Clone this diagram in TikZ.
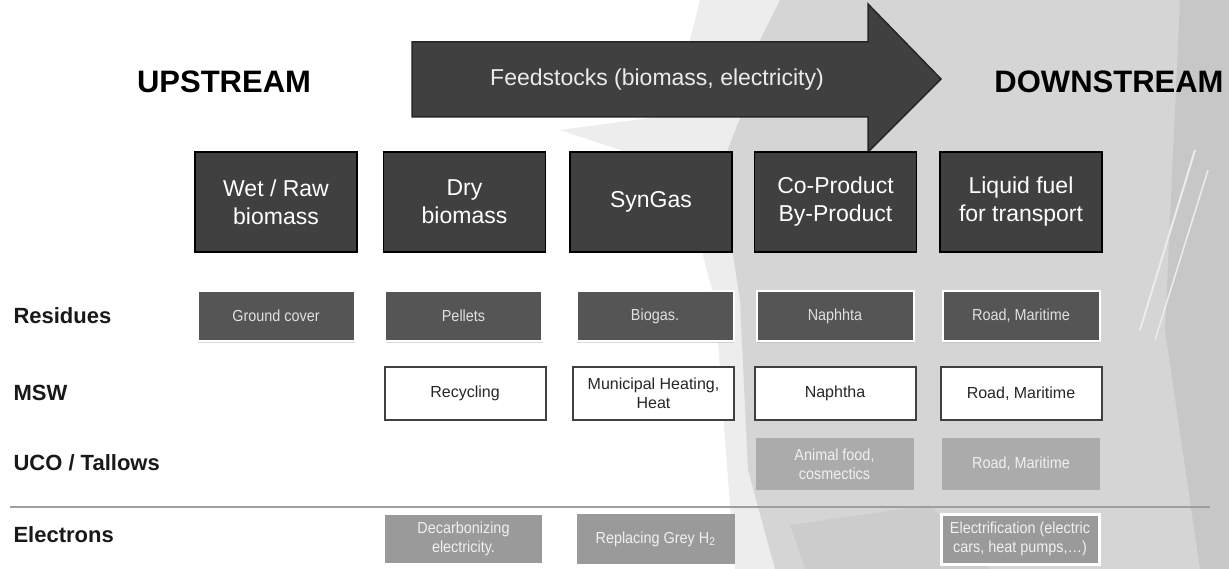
\documentclass[tikz,border=0pt]{standalone}
\usepackage{fontspec}
\setmainfont{Liberation Sans}
\newfontfamily\narrowfont[FakeStretch=0.9]{Liberation Sans}
\usetikzlibrary{shadows}
\definecolor{boxdark}{HTML}{404040}
\definecolor{resdark}{HTML}{555555}
\definecolor{ucogrey}{HTML}{ABABAB}
\definecolor{elecgrey}{HTML}{9A9A9A}
\definecolor{bggrey}{HTML}{D5D5D5}

\begin{document}
\begin{tikzpicture}[
  x=1pt,y=-1pt,
  head/.style={draw=black, line width=1.5pt, fill=boxdark, text=white, minimum width=162pt, minimum height=100pt, align=center, font=\fontsize{23}{28}\selectfont, inner sep=0pt},
  lbl/.style={anchor=west, font=\bfseries\fontsize{22}{26}\selectfont, text=black!90},
  res/.style={draw=white, line width=2pt, fill=resdark, text=white!88!black, minimum width=157pt, minimum height=50pt, align=center, font=\narrowfont\fontsize{16}{19}\selectfont, inner sep=0pt, drop shadow={shadow xshift=0.5pt, shadow yshift=-2pt, fill=black!30, opacity=0.5}},
  msw/.style={draw=black!75, line width=2pt, fill=white, text=black!85, minimum width=161pt, minimum height=53pt, align=center, font=\fontsize{16}{19}\selectfont, inner sep=0pt},
  uco/.style={fill=ucogrey, text=white!94!black, minimum width=158pt, minimum height=52pt, align=center, font=\narrowfont\fontsize{16}{19}\selectfont, inner sep=0pt},
  elec/.style={uco, fill=elecgrey, draw=white, line width=1.5pt, minimum height=50pt}
]
% background
\fill[white] (0,0) rectangle (1229,569);
\useasboundingbox (0,0) rectangle (1229,569);
\fill[black!7] (700,0) -- (1229,0) -- (1229,569) -- (735,569) -- (725,440) -- (715,300) -- (680,170) -- (560,130) -- (650,118) -- (690,40) -- cycle;
\fill[bggrey] (780,0) -- (1229,0) -- (1229,569) -- (775,569) -- (748,470) -- (740,300) -- (720,170) -- (740,118) -- (760,40) -- cycle;
\fill[black!22] (1180,0) -- (1229,0) -- (1229,569) -- (1200,569) -- (1165,330) -- cycle;
\fill[black!20] (790,525) -- (930,505) -- (990,569) -- (805,569) -- cycle;
\draw[white!55!bggrey, line width=2pt] (1140,330) -- (1195,150);
\draw[white!55!bggrey, line width=1.5pt] (1155,340) -- (1208,170);

% feedstock arrow
\filldraw[fill=boxdark, draw=black!85, line width=1.5pt] (412,42) -- (868,42) -- (868,4) -- (941,79) -- (868,152) -- (868,117) -- (412,117) -- cycle;
\node[text=white!92!black, font=\fontsize{23}{28}\selectfont] (feed) at (657,80) {Feedstocks (biomass, electricity)};

\node[font=\bfseries\fontsize{31}{36}\selectfont] (up) at (224,82) {UPSTREAM};
\node[font=\bfseries\fontsize{31}{36}\selectfont] (down) at (1109,82) {DOWNSTREAM};

% product columns
\node[head] (hwet) at (276,202) {Wet / Raw\\biomass};
\node[head] (hdry) at (464.5,202) {Dry\\biomass};
\node[head] (hsyn) at (651,202) {SynGas};
\node[head] (hco) at (835.5,202) {Co-Product\\By-Product};
\node[head] (hliq) at (1021,202) {Liquid fuel\\for transport};

% feedstock rows
\node[lbl] (lres) at (10,316) {Residues};
\node[lbl] (lmsw) at (10,393) {MSW};
\node[lbl] (luco) at (10,463) {UCO / Tallows};
\node[lbl] (lele) at (10,535) {Electrons};

\node[res] (rwet) at (276,316) {Ground cover};
\node[res] (rdry) at (463.5,316) {Pellets};
\node[res] (rsyn) at (655,316) {Biogas.};
\node[res] (rco) at (835,316) {Naphhta};
\node[res] (rliq) at (1021,316) {Road, Maritime};

\node[msw] (mdry) at (465,393.5) {Recycling};
\node[msw] (msyn) at (653.5,393.5) {Municipal Heating,\\Heat};
\node[msw] (mco) at (835,393.5) {Naphtha};
\node[msw] (mliq) at (1021,393.5) {Road, Maritime};

\node[uco] (uco) at (834.5,464) {Animal food,\\cosmectics};
\node[uco] (uliq) at (1021,464) {Road, Maritime};

\coordinate (sepl) at (10,507);
\coordinate (sepr) at (1210,507);
\draw[black!38, line width=2.5pt] (sepl) -- (sepr);

\node[elec] (edry) at (463.5,539) {Decarbonizing\\electricity.};
\node[elec, draw=none] (esyn) at (655.5,539) {Replacing Grey H\textsubscript{2}};
\node[elec, line width=3pt] (eliq) at (1020,539) {Electrification (electric\\cars, heat pumps,…)};
\end{tikzpicture}
\end{document}
